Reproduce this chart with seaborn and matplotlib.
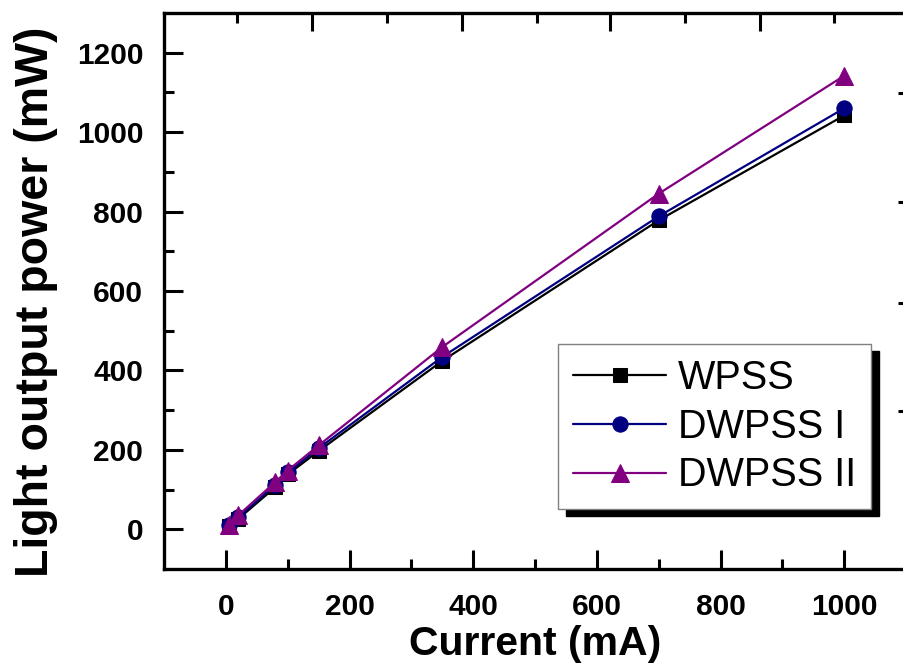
import numpy as np
import pandas as pd
import matplotlib
matplotlib.use("Agg")
import matplotlib.pyplot as plt
import seaborn as sns

current = [5, 20, 80, 100, 150, 350, 700, 1000]
wpss = [8, 26, 106, 138, 197, 424, 778, 1042]
dwpss_1 = [10, 30, 112, 143, 204, 434, 788, 1060]
dwpss_2 = [12, 35, 119, 148, 211, 459, 845, 1142]
series_names = ["WPSS", "DWPSS I", "DWPSS II"]
colors = ["#000000", "#000080", "#800080"]
markers = ["s", "o", "^"]

df = pd.concat([
    pd.DataFrame({"Current": current, "Power": vals, "Sample": name})
    for name, vals in zip(series_names, [wpss, dwpss_1, dwpss_2])
], ignore_index=True)

sns.set_theme(style="white")
plt.rcParams["font.family"] = ["Liberation Sans", "DejaVu Sans"]
plt.rcParams.update({"text.color": "black", "axes.labelcolor": "black",
                     "xtick.color": "black", "ytick.color": "black",
                     "axes.edgecolor": "black"})

fig = plt.figure(figsize=(9.04, 6.71), dpi=100)
ax = fig.add_axes([164/904, 102/671, 742/904, 556/671])

sns.lineplot(data=df, x="Current", y="Power", hue="Sample", style="Sample",
             hue_order=series_names, style_order=series_names,
             palette=colors, markers=markers, dashes=False, linewidth=1.6,
             markersize=11, ax=ax, legend=False)
for line, c, ms in zip(ax.get_lines(), colors, [10, 11, 13]):
    line.set_markeredgecolor(c)
    line.set_markerfacecolor(c)
    line.set_markersize(ms)

ax.set_xlim(-100, 1100)
ax.set_ylim(-100, 1300)
ax.set_xticks([0, 200, 400, 600, 800, 1000])
ax.set_xticks(np.arange(100, 1000, 200), minor=True)
ax.set_yticks([0, 200, 400, 600, 800, 1000, 1200])
ax.set_yticks(np.arange(100, 1200, 200), minor=True)
ax.tick_params(which="both", direction="in", width=2.2, color="black",
               bottom=True, left=True, top=False, right=False)
ax.tick_params(which="major", length=14)
ax.tick_params(which="minor", length=7)
ax.tick_params(axis="x", which="major", pad=17, labelsize=21.5, labelcolor="black")
ax.tick_params(axis="y", which="major", pad=15, labelsize=21.5, labelcolor="black")
for lab in ax.get_xticklabels() + ax.get_yticklabels():
    lab.set_fontweight("bold")

for s in ["left", "bottom", "top", "right"]:
    ax.spines[s].set_linewidth(2.4)
    ax.spines[s].set_color("black")

# independent top / right tick frames
axt = ax.twiny()
axt.set_xlim(ax.get_xlim())
axt.set_xticks([140, 382, 622, 864])
axt.set_xticks([18, 261, 503, 743, 984], minor=True)
axt.tick_params(which="both", direction="in", width=2.2, top=True, labeltop=False, color="black")
axt.tick_params(which="major", length=13)
axt.tick_params(which="minor", length=7)
axr = ax.twinx()
axr.set_ylim(ax.get_ylim())
axr.set_yticks([298, 570, 824, 1098])
axr.set_yticks([170, 424, 673, 925, 1176], minor=True)
axr.tick_params(which="both", direction="in", width=2.2, right=True, labelright=False, color="black")
axr.tick_params(which="major", length=6)
axr.tick_params(which="minor", length=2.5)
for a in (axt, axr):
    for s in a.spines.values():
        s.set_visible(False)
    a.grid(False)

ax.set_xlabel("Current (mA)", fontsize=29.5, fontweight="bold", labelpad=3, color="black")
ax.set_ylabel("Light output power (mW)", fontsize=33.5, fontweight="bold", color="black")
ax.yaxis.set_label_coords((58 - 164) / 742, (569 - 302) / 556)

handles = ax.get_lines()[:3]
leg = ax.legend(handles, series_names, loc="upper left",
                bbox_to_anchor=((558-164)/742, (569-344)/556),
                borderaxespad=0, fontsize=28.5, frameon=True, fancybox=False,
                framealpha=1, edgecolor="#808080", handlelength=2.35,
                handletextpad=0.3, borderpad=0.38, labelspacing=0.27,
                shadow={"ox": 5.5, "oy": -5, "facecolor": "black",
                        "edgecolor": "black", "alpha": 1})
leg.get_frame().set_linewidth(1.0)
for t in leg.get_texts():
    t.set_color("black")

fig.savefig("out.png", dpi=100)
